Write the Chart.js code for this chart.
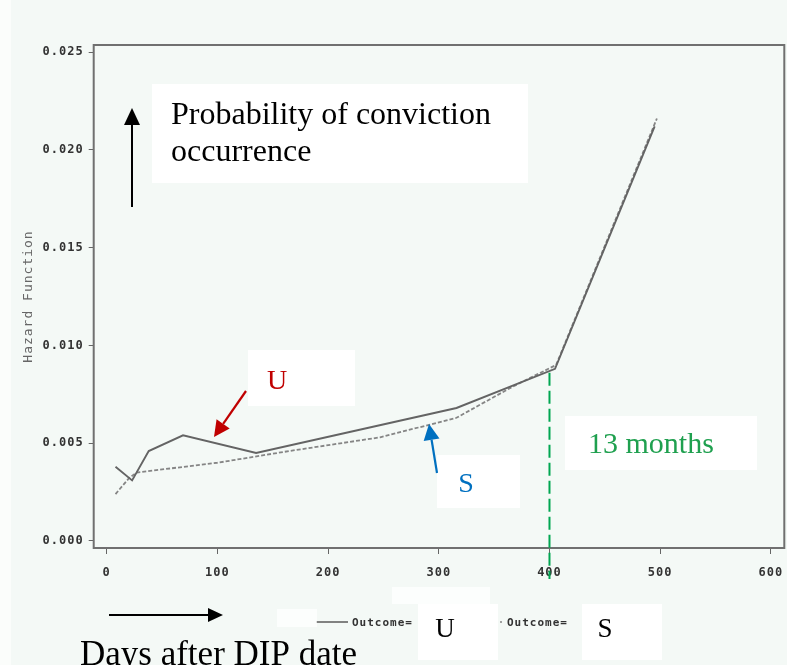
<!DOCTYPE html>
<html><head><meta charset="utf-8">
<script src="https://cdn.jsdelivr.net/npm/chart.js@4.4.1/dist/chart.umd.min.js"></script>
<style>html,body{margin:0;padding:0;background:#f4f9f6;}canvas{display:block}</style>
</head><body>
<canvas id="c" width="787" height="665"></canvas>
<script>
// ---- data ----
const seriesNames = ['U', 'S'];
const daysU   = [8, 23, 38, 69, 135, 316, 405, 495];
const hazardU = [0.0038, 0.0031, 0.0046, 0.0054, 0.0045, 0.0068, 0.0088, 0.0212];
const daysS   = [8, 20, 27, 100, 165, 247, 316, 367, 406, 497];
const hazardS = [0.0024, 0.0032, 0.0035, 0.0040, 0.0046, 0.0053, 0.0063, 0.0079, 0.0090, 0.0216];
const xTicks = [0, 100, 200, 300, 400, 500, 600];
const yTicks = [0, 0.005, 0.010, 0.015, 0.020, 0.025];
const yTickLabels = ['0.000', '0.005', '0.010', '0.015', '0.020', '0.025'];
const yTitle = 'Hazard Function';
const legendPrefix = 'Outcome=';
const markerDay = 400;
const markerHazard = 0.0086;
const markerLabel = '13 months';
const noteTitle = ['Probability of conviction', 'occurrence'];
const noteXAxis = 'Days after DIP date';

const BG = '#f4f9f6';
const MONO = "'DejaVu Sans Mono', monospace";
const SERIF = "'Liberation Serif', 'Times New Roman', serif";

function pts(xs, ys) { return xs.map((x, i) => ({x: x, y: ys[i]})); }

function arrow(ctx, x1, y1, x2, y2, color, head, half, lw) {
  const a = Math.atan2(y2 - y1, x2 - x1);
  const bx = x2 - head * Math.cos(a), by = y2 - head * Math.sin(a);
  ctx.save();
  ctx.strokeStyle = color; ctx.fillStyle = color; ctx.lineWidth = lw; ctx.setLineDash([]);
  ctx.beginPath(); ctx.moveTo(x1, y1); ctx.lineTo(bx, by); ctx.stroke();
  ctx.beginPath();
  ctx.moveTo(x2, y2);
  ctx.lineTo(bx + half * Math.sin(a), by - half * Math.cos(a));
  ctx.lineTo(bx - half * Math.sin(a), by + half * Math.cos(a));
  ctx.closePath(); ctx.fill();
  ctx.restore();
}

const decor = {
  id: 'decor',
  beforeDraw(chart) {
    const ctx = chart.ctx;
    ctx.save();
    ctx.fillStyle = BG; ctx.fillRect(0, 0, chart.width, chart.height);
    ctx.fillStyle = 'rgba(255,255,255,0.6)'; ctx.fillRect(0, 0, 11, chart.height);
    ctx.restore();
    ctx.letterSpacing = '1px';
  },
  beforeDatasetsDraw(chart) {
    const ctx = chart.ctx, a = chart.chartArea;
    ctx.save();
    ctx.strokeStyle = '#707070'; ctx.lineWidth = 2;
    ctx.strokeRect(a.left, a.top, a.right - a.left, a.bottom - a.top);
    ctx.restore();
  },
  afterDatasetsDraw(chart) {
    const ctx = chart.ctx, a = chart.chartArea;
    const xs = chart.scales.x, ys = chart.scales.y;
    const gx = xs.getPixelForValue(markerDay);
    ctx.save();
    ctx.strokeStyle = '#00a651'; ctx.lineWidth = 2; ctx.setLineDash([13, 5]);
    ctx.beginPath(); ctx.moveTo(gx, ys.getPixelForValue(markerHazard)); ctx.lineTo(gx, a.bottom + 31); ctx.stroke();
    ctx.restore();
  },
  afterDraw(chart) {
    const ctx = chart.ctx;
    ctx.save();
    // legend samples (drawn from dataset styles)
    const ds = chart.data.datasets;
    const legendItems = [{x: 316, tx: 352}, {x: 470, tx: 507}];
    ctx.letterSpacing = '1px';
    legendItems.forEach((it, i) => {
      ctx.save();
      ctx.strokeStyle = ds[i].borderColor; ctx.lineWidth = 1.6;
      ctx.setLineDash(ds[i].borderDash || []);
      ctx.beginPath(); ctx.moveTo(it.x, 622); ctx.lineTo(it.x + 32, 622); ctx.stroke();
      ctx.restore();
      ctx.fillStyle = '#333'; ctx.font = 'bold 11px ' + MONO;
      ctx.textAlign = 'left'; ctx.textBaseline = 'middle';
      ctx.fillText(legendPrefix, it.tx, 623);
    });
    ctx.letterSpacing = '0px';
    // pasted white boxes
    ctx.fillStyle = 'rgba(255,255,255,0.75)';
    ctx.fillRect(392, 587, 98, 17);
    ctx.fillRect(277, 609, 40, 18);
    ctx.fillStyle = '#ffffff';
    ctx.fillRect(152, 84, 376, 99);   // title note
    ctx.fillRect(248, 350, 107, 56);  // U note
    ctx.fillRect(437, 455, 83, 53);   // S note
    ctx.fillRect(565, 416, 192, 54);  // 13 months
    ctx.fillRect(418, 604, 80, 56);   // legend U
    ctx.fillRect(582, 604, 80, 56);   // legend S
    // texts
    ctx.fillStyle = '#000'; ctx.textAlign = 'left'; ctx.textBaseline = 'alphabetic';
    ctx.font = '32px ' + SERIF;
    ctx.fillText(noteTitle[0], 171, 124);
    ctx.fillText(noteTitle[1], 171, 161);
    ctx.font = '35px ' + SERIF;
    ctx.fillText(noteXAxis, 80, 665);
    ctx.fillStyle = '#1fa04f'; ctx.font = '30px ' + SERIF;
    ctx.fillText(markerLabel, 588, 453);
    ctx.textAlign = 'center'; ctx.textBaseline = 'middle';
    ctx.font = '28px ' + SERIF;
    ctx.fillStyle = '#c00000'; ctx.fillText(seriesNames[0], 277, 382);
    ctx.fillStyle = '#0070c0'; ctx.fillText(seriesNames[1], 466, 485);
    ctx.fillStyle = '#000'; ctx.font = '27px ' + SERIF;
    ctx.fillText(seriesNames[0], 445, 630);
    ctx.fillText(seriesNames[1], 605, 630);
    ctx.restore();
    // arrows
    arrow(ctx, 132, 207, 132, 108, '#000', 17, 8, 2);
    arrow(ctx, 109, 615, 223, 615, '#000', 15, 7, 2);
    arrow(ctx, 246, 391, 214, 437, '#c00000', 16, 8, 2.2);
    arrow(ctx, 437, 473, 429, 424, '#0070c0', 16, 8, 2.2);
  }
};

new Chart(document.getElementById('c'), {
  type: 'line',
  data: {
    datasets: [
      {label: seriesNames[0], data: pts(daysU, hazardU), borderColor: '#646464', borderWidth: 1.9,
       pointRadius: 0, tension: 0, fill: false},
      {label: seriesNames[1], data: pts(daysS, hazardS), borderColor: '#858585', borderWidth: 1.8,
       borderDash: [4, 2], pointRadius: 0, tension: 0, fill: false}
    ]
  },
  options: {
    responsive: false,
    animation: false,
    events: [],
    layout: {padding: {top: 45, right: 2.7, left: 0, bottom: 0}},
    plugins: {legend: {display: false}, tooltip: {enabled: false}},
    scales: {
      x: {
        type: 'linear', min: -11.7, max: 612.1,
        afterBuildTicks: s => { s.ticks = xTicks.map(v => ({value: v})); },
        afterFit: s => { s.height = 117; s.paddingLeft = 0; s.paddingRight = 0; },
        grid: {drawOnChartArea: false, drawTicks: true, tickLength: 6, color: '#666', lineWidth: 1},
        border: {display: false},
        ticks: {color: '#333', padding: 12, maxRotation: 0, autoSkip: false,
                font: {family: MONO, size: 12, weight: 'bold'},
                callback: v => String(v)}
      },
      y: {
        type: 'linear', min: -0.000358, max: 0.025358,
        afterBuildTicks: s => { s.ticks = yTicks.map(v => ({value: v})); },
        afterFit: s => { s.width = 93.7; s.paddingTop = 0; s.paddingBottom = 0; },
        grid: {drawOnChartArea: false, drawTicks: true, tickLength: 5, color: '#666', lineWidth: 1},
        border: {display: false},
        ticks: {color: '#333', padding: 5, autoSkip: false,
                font: {family: MONO, size: 12, weight: 'bold'},
                callback: (v, i) => yTickLabels[i]},
        title: {display: true, text: yTitle, color: '#666', padding: {top: 21, bottom: 0},
                font: {family: MONO, size: 13, weight: 'normal'}}
      }
    }
  },
  plugins: [decor]
});
</script>
</body></html>
